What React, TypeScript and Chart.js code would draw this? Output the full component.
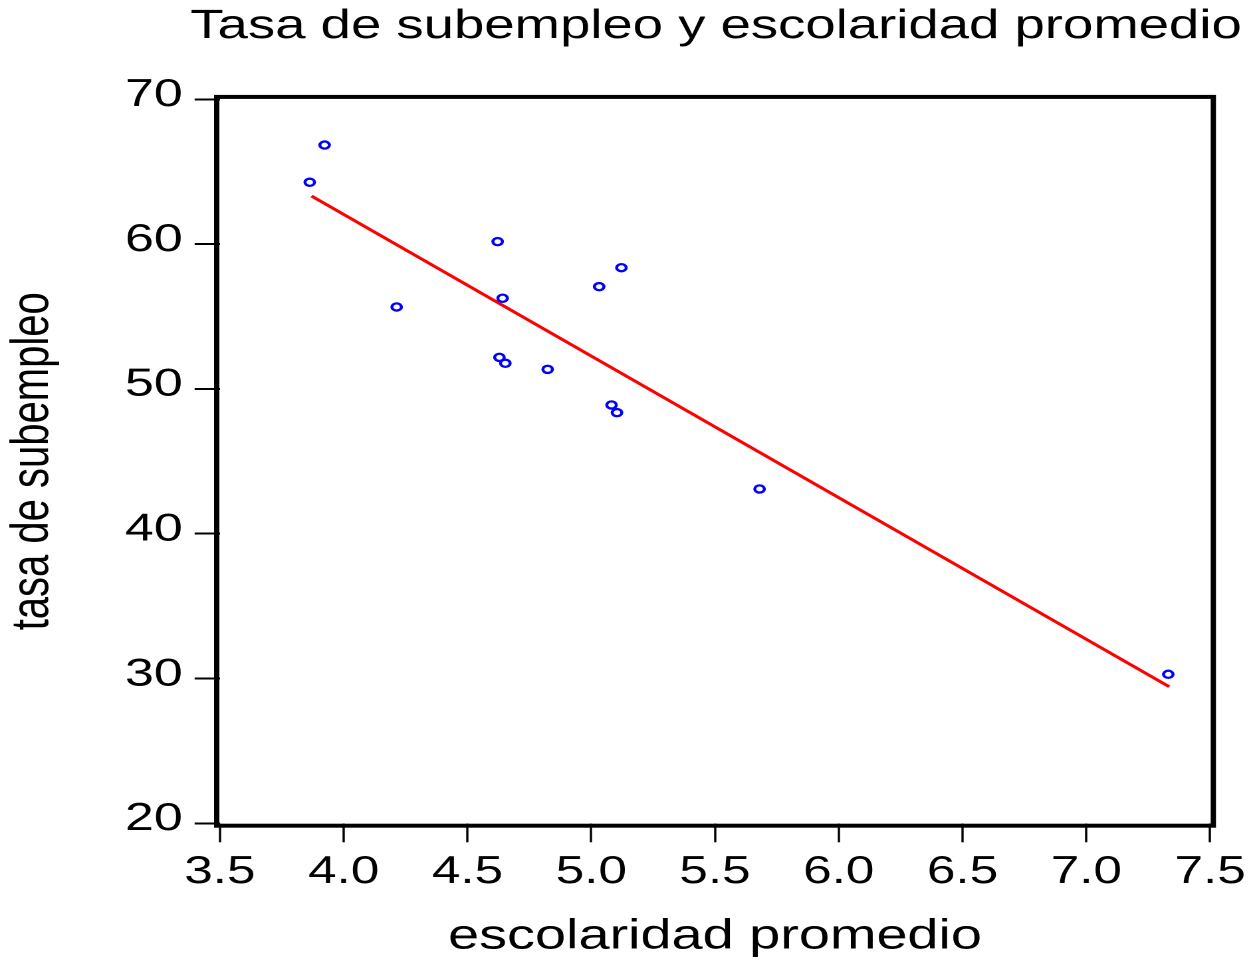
import { useEffect, useRef } from 'react';
import { Chart, registerables } from 'chart.js';

Chart.register(...registerables);

// ---- data ----
const escolaridad = [3.923, 3.863, 4.214, 4.622, 4.642, 4.629, 4.653, 4.824, 5.032, 5.122, 5.082, 5.104, 5.680, 7.331];
const subempleo = [66.84, 64.27, 55.66, 60.17, 56.26, 52.18, 51.77, 51.35, 57.06, 58.37, 48.89, 48.36, 43.09, 30.29];
const fitX = [3.87, 7.335];
const fitY = [63.32, 29.43];
const titleText = 'Tasa de subempleo y escolaridad promedio';
const xTitle = 'escolaridad promedio';
const yTitle = 'tasa de subempleo';

// ---- layout ----
const CANVAS_W = 944;
const CANVAS_H = 962;
const DISPLAY_W = 1255;
const FONT = "'Liberation Sans', Arial, Helvetica, sans-serif";

const framePlugin = {
  id: 'frame',
  afterDraw(chart: any) {
    const { ctx, chartArea } = chart;
    const o = 2.4;
    ctx.save();
    ctx.strokeStyle = '#000';
    ctx.lineWidth = 4;
    ctx.strokeRect(chartArea.left - o, chartArea.top - o, chartArea.right - chartArea.left + 2 * o, chartArea.bottom - chartArea.top + 2 * o);
    ctx.restore();
  },
};

export default function App() {
  const ref = useRef<HTMLCanvasElement | null>(null);

  useEffect(() => {
    const canvas = ref.current;
    if (!canvas) return;
    const points = escolaridad.map((x, i) => ({ x, y: subempleo[i] }));
    const fit = fitX.map((x, i) => ({ x, y: fitY[i] }));
    const chart = new Chart(canvas, {
      type: 'scatter',
      data: {
        datasets: [
          {
            label: 'datos',
            data: points,
            showLine: false,
            pointStyle: 'circle',
            pointRadius: 3.6,
            pointBorderWidth: 2.3,
            pointBorderColor: '#0000FF',
            pointBackgroundColor: 'rgba(0,0,0,0)',
          },
          {
            label: 'ajuste',
            data: fit,
            showLine: true,
            borderColor: '#FF0000',
            borderWidth: 2.8,
            pointRadius: 0,
            fill: false,
          },
        ],
      },
      options: {
        responsive: false,
        animation: false,
        devicePixelRatio: 2,
        events: [],
        layout: { padding: { left: 0, right: 10, top: 0, bottom: 0 } },
        plugins: {
          legend: { display: false },
          tooltip: { enabled: false },
          title: {
            display: true,
            text: titleText,
            fullSize: true,
            align: 'end',
            color: '#000',
            font: { size: 41, weight: 'normal', family: FONT, lineHeight: 1.0 },
            padding: { top: 6.3, bottom: 52 },
          },
        },
        scales: {
          x: {
            type: 'linear',
            min: 3.5,
            max: 7.5,
            afterFit: (s: any) => { s.height = 138.7; },
            ticks: {
              stepSize: 0.5,
              autoSkip: false,
              maxRotation: 0,
              padding: 7,
              color: '#000',
              font: { size: 38.5, family: FONT },
              callback: (v: any) => Number(v).toFixed(1),
            },
            grid: { display: true, drawOnChartArea: false, drawTicks: true, tickLength: 19, tickWidth: 1.7, tickColor: '#000' },
            border: { display: false },
            title: { display: true, text: xTitle, color: '#000', font: { size: 42, family: FONT }, padding: { top: 0, bottom: 0 } },
          },
          y: {
            type: 'linear',
            min: 20,
            max: 70,
            afterFit: (s: any) => { s.width = 165.4; },
            ticks: {
              stepSize: 10,
              padding: 9,
              labelOffset: -4,
              color: '#000',
              font: { size: 39, family: FONT },
              callback: (v: any) => String(v),
            },
            grid: { display: true, drawOnChartArea: false, drawTicks: true, tickLength: 19, tickWidth: 2, tickColor: '#000' },
            border: { display: false },
            title: { display: true, text: yTitle, color: '#000', font: { size: 40, family: FONT }, padding: { top: 1, bottom: 0 } },
          },
          yRight: {
            type: 'linear',
            position: 'right',
            display: true,
            min: 20,
            max: 70,
            afterFit: (s: any) => { s.width = 22.4; },
            ticks: { display: false },
            grid: { display: false, drawTicks: false },
            border: { display: false },
            title: { display: false },
          },
        },
      },
      plugins: [framePlugin],
    } as any);
    return () => chart.destroy();
  }, []);

  return (
    <div style={{ position: 'fixed', left: 0, top: 0, width: DISPLAY_W + 'px', height: CANVAS_H + 'px', background: '#fff' }}>
      <canvas
        ref={ref}
        width={CANVAS_W}
        height={CANVAS_H}
        style={{ width: DISPLAY_W + 'px', height: CANVAS_H + 'px', display: 'block' }}
      />
    </div>
  );
}
